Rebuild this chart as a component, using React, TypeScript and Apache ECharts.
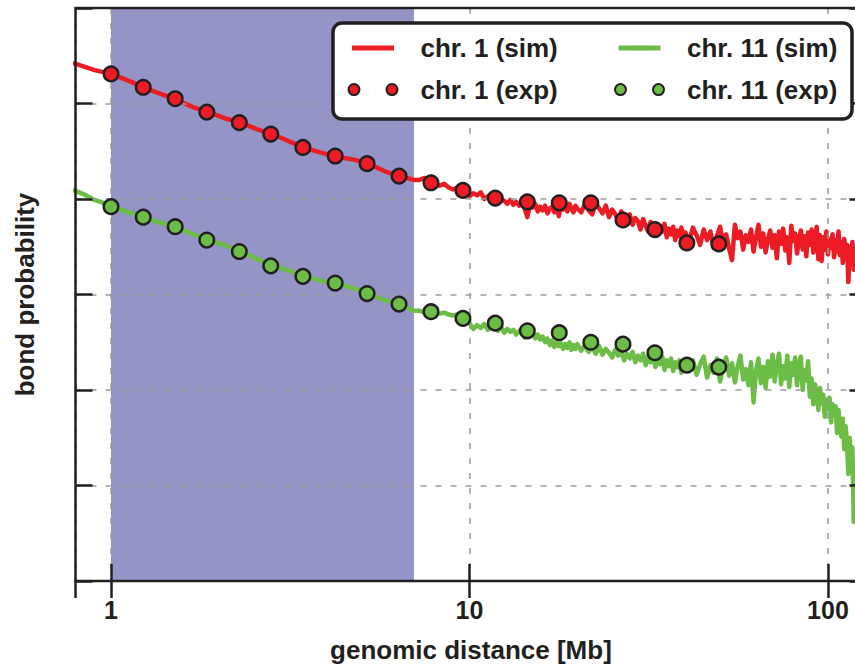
import { useEffect, useRef } from 'react';
import * as echarts from 'echarts';

const FONT = '"Liberation Sans", Arial, Helvetica, sans-serif';
const DARK = '#231f20';
const RED = '#ed1c24';
const GREEN = '#6cbd45';
const BAND = '#9494c6';
const GRID_GRAY = '#9c9c9c';

const NAMES = ['chr. 1 (sim)', 'chr. 1 (exp)', 'chr. 11 (sim)', 'chr. 11 (exp)'];
const X_TICKS = [1, 10, 100];
const X_RANGE = [0.796, 128];
const Y_RANGE = [0, 6];
const SHADE = [1, 7];

// simulated genomic distances [Mb], in four sampling segments
const X_SMOOTH = [0.79, 0.85, 0.9, 1, 1.1, 1.2, 1.35, 1.5, 1.7, 1.9, 2.1, 2.3, 2.6, 2.9, 3.2, 3.5, 3.9, 4.3, 4.8, 5.3, 5.8, 6.4, 7];
const X_A = [
  7.25, 7.5, 7.75, 8, 8.25, 8.5, 8.75, 9, 9.25, 9.5, 9.75, 10, 10.25, 10.5, 10.75, 11, 11.25, 11.5, 11.75, 12,
  12.25, 12.5, 12.75, 13, 13.25, 13.5, 13.75, 14, 14.25, 14.5, 14.75, 15, 15.25, 15.5, 15.75, 16, 16.25, 16.5, 16.75, 17,
  17.25, 17.5, 17.75, 18, 18.25, 18.5, 18.75, 19, 19.25, 19.5, 19.75, 20,
];
const X_B = [
  20.5, 21, 21.5, 22, 22.5, 23, 23.5, 24, 24.5, 25, 25.5, 26, 26.5, 27, 27.5, 28, 28.5, 29, 29.5, 30,
  30.5, 31, 31.5, 32, 32.5, 33, 33.5, 34, 34.5, 35, 35.5, 36, 36.5, 37, 37.5, 38, 38.5, 39, 39.5, 40,
];
const X_C = [
  41, 42, 43, 44, 45, 46, 47, 48, 49, 50, 51, 52, 53, 54, 55, 56, 57, 58, 59, 60,
  61, 62, 63, 64, 65, 66, 67, 68, 69, 70, 71, 72, 73, 74, 75, 76, 77, 78, 79, 80,
  81, 82, 83, 84, 85, 86, 87, 88, 89, 90, 91, 92, 93, 94, 95, 96, 97, 98, 99, 100,
  101, 102, 103, 104, 105, 106, 107, 108, 109, 110, 111, 112, 113, 114, 115, 116, 117, 118, 119, 120,
  121, 122, 123, 124,
];

// chr. 1 simulation
const RED_SMOOTH = [5.42, 5.38, 5.35, 5.31, 5.25, 5.19, 5.11, 5.05, 4.96, 4.9, 4.84, 4.8, 4.72, 4.66, 4.59, 4.53, 4.48, 4.44, 4.41, 4.36, 4.29, 4.24, 4.2];
const RED_A = [
  4.2, 4.22, 4.17, 4.16, 4.14, 4.16, 4.12, 4.1, 4.12, 4.09, 4.1, 4.03, 4.06, 4.04, 4.07, 4.0, 4.03, 4.01, 4.04, 3.97,
  4.0, 3.98, 3.95, 3.99, 3.94, 3.97, 3.93, 3.96, 3.9, 3.81, 3.94, 3.91, 3.95, 3.87, 3.92, 3.88, 3.93, 3.85, 3.9, 3.92,
  3.86, 3.91, 3.82, 3.94, 3.89, 3.92, 3.87, 3.95, 3.9, 3.86, 3.93, 3.9,
];
const RED_B = [
  3.86, 3.95, 3.88, 3.84, 3.96, 3.9, 3.85, 3.93, 3.81, 3.89, 3.84, 3.78, 3.87, 3.8, 3.75, 3.84, 3.73, 3.8, 3.77, 3.68,
  3.79, 3.72, 3.66, 3.76, 3.69, 3.73, 3.62, 3.71, 3.66, 3.74, 3.6, 3.69, 3.63, 3.71, 3.57, 3.67, 3.61, 3.7, 3.58, 3.65,
];
const RED_C = [
  3.55, 3.7, 3.62, 3.52, 3.68, 3.57, 3.66, 3.49, 3.61, 3.71, 3.54, 3.63, 3.48, 3.36, 3.73, 3.59, 3.66, 3.47, 3.62, 3.55,
  3.68, 3.45, 3.6, 3.73, 3.5, 3.64, 3.44, 3.58, 3.67, 3.49, 3.62, 3.38, 3.66, 3.53, 3.69, 3.46, 3.6, 3.33, 3.72, 3.56,
  3.64, 3.43, 3.58, 3.67, 3.47, 3.61, 3.4, 3.65, 3.52, 3.68, 3.44, 3.59, 3.71, 3.37, 3.62, 3.35, 3.6, 3.47, 3.66, 3.42,
  3.58, 3.49, 3.63, 3.39, 3.57, 3.45, 3.66, 3.41, 3.55, 3.33, 3.58, 3.44, 3.52, 3.13, 3.5, 3.38, 3.55, 3.26, 3.48, 3.35,
  3.5, 3.22, 3.44, 3.31,
];

// chr. 11 simulation
const GREEN_SMOOTH = [4.09, 4.04, 3.99, 3.93, 3.87, 3.82, 3.76, 3.71, 3.63, 3.56, 3.51, 3.45, 3.36, 3.29, 3.24, 3.19, 3.14, 3.11, 3.06, 3.0, 2.94, 2.9, 2.83];
const GREEN_A = [
  2.83, 2.81, 2.82, 2.81, 2.8, 2.81, 2.79, 2.78, 2.79, 2.77, 2.76, 2.7, 2.64, 2.68, 2.65, 2.69, 2.63, 2.67, 2.64, 2.62,
  2.66, 2.6, 2.64, 2.61, 2.63, 2.58, 2.62, 2.6, 2.55, 2.61, 2.57, 2.6, 2.54, 2.58, 2.53, 2.56, 2.5, 2.54, 2.47, 2.52,
  2.45, 2.5, 2.46, 2.49, 2.43, 2.48, 2.44, 2.5, 2.42, 2.47, 2.43, 2.48,
];
const GREEN_B = [
  2.41, 2.47, 2.4, 2.45, 2.38, 2.46, 2.37, 2.43, 2.39, 2.34, 2.42, 2.36, 2.4, 2.31, 2.38, 2.33, 2.4, 2.29, 2.36, 2.31,
  2.38, 2.26, 2.35, 2.29, 2.36, 2.24, 2.32, 2.27, 2.35, 2.21, 2.31, 2.25, 2.33, 2.2, 2.29, 2.24, 2.31, 2.18, 2.28, 2.22,
];
const GREEN_C = [
  2.2, 2.31, 2.16, 2.27, 2.35, 2.13, 2.26, 2.18, 2.33, 2.09, 2.24, 2.34, 2.15, 2.28, 2.08, 2.25, 2.36, 2.11, 2.22, 2.05,
  2.29, 1.87, 2.2, 2.33, 2.07, 2.24, 2.02, 2.3, 2.14, 2.37, 2.09, 2.27, 2.38, 2.06, 2.25, 2.12, 2.36, 2.03, 2.28, 2.16,
  2.34, 2.05, 2.26, 2.35, 2.0, 2.21, 2.1, 2.3, 1.93, 2.12, 1.85, 2.06, 1.97, 1.79, 2.02, 1.86, 1.95, 1.72, 1.9, 1.8,
  1.92, 1.66, 1.85, 1.74, 1.83, 1.55, 1.79, 1.62, 1.51, 1.7, 1.38, 1.62, 1.45, 1.12, 1.5, 1.25, 1.4, 0.62, 1.02, 1.18,
  0.7, 0.95, 0.55, 0.82,
];

// experimental points
const EXP_X = [1, 1.23, 1.51, 1.85, 2.28, 2.79, 3.43, 4.22, 5.18, 6.36, 7.81, 9.59, 11.8, 14.5, 17.8, 21.8, 26.8, 32.9, 40.4, 49.6];
const RED_EXP = [5.31, 5.17, 5.05, 4.91, 4.8, 4.68, 4.54, 4.45, 4.37, 4.24, 4.17, 4.09, 4.01, 3.97, 3.96, 3.96, 3.78, 3.68, 3.54, 3.53];
const GREEN_EXP = [3.92, 3.81, 3.71, 3.57, 3.45, 3.3, 3.19, 3.12, 3.01, 2.9, 2.82, 2.75, 2.7, 2.62, 2.6, 2.5, 2.48, 2.39, 2.26, 2.24];

const SIM_X = [...X_SMOOTH, ...X_A, ...X_B, ...X_C];
const RED_SIM = [...RED_SMOOTH, ...RED_A, ...RED_B, ...RED_C];
const GREEN_SIM = [...GREEN_SMOOTH, ...GREEN_A, ...GREEN_B, ...GREEN_C];

const pairs = (xs: number[], ys: number[]) => {
  const n = Math.min(xs.length, ys.length);
  const out: number[][] = [];
  for (let i = 0; i < n; i++) out.push([xs[i], ys[i]]);
  return out;
};

const LINE_ICON = 'path://M0,0L0,0M49,11L49,11M3.5,3H45.5V8H3.5Z';
const DOTS_ICON =
  'path://M0,5.5A5.5,5.5 0 1,0 11,5.5A5.5,5.5 0 1,0 0,5.5ZM38,5.5A5.5,5.5 0 1,0 49,5.5A5.5,5.5 0 1,0 38,5.5Z';

const tickStyle = { color: DARK, width: 2.5 };
const splitStyle = { color: GRID_GRAY, width: 1.5, type: [6, 9] as number[] };

const legendText = {
  fontSize: 26,
  fontWeight: 'bold',
  color: DARK,
  fontFamily: FONT,
  lineHeight: 30,
  padding: [0, 0, 0, 18],
};

const makeLegend = (left: number, simName: string, expName: string) => ({
  orient: 'vertical',
  left,
  top: 33,
  padding: 0,
  itemWidth: 49,
  itemHeight: 30,
  itemGap: 11.6,
  z: 6,
  selectedMode: false,
  textStyle: legendText,
  data: [
    { name: simName, icon: LINE_ICON, itemStyle: { borderWidth: 0 } },
    { name: expName, icon: DOTS_ICON },
  ],
});

const xLabelFormatter = (v: number) => {
  const r = Math.round(v);
  return X_TICKS.includes(r) && Math.abs(v - r) < 1e-6 ? String(r) : '';
};

export default function App() {
  const ref = useRef<HTMLDivElement>(null);

  useEffect(() => {
    if (!ref.current) return;
    const chart = echarts.init(ref.current, undefined, { renderer: 'svg' });
    const option: any = {
      animation: false,
      backgroundColor: '#ffffff',
      textStyle: { fontFamily: FONT },
      grid: {
        left: 75.5,
        top: 8,
        right: -11.4,
        bottom: 84,
        show: true,
        borderColor: DARK,
        borderWidth: 2.5,
        backgroundColor: 'transparent',
        z: 4,
        outerBoundsMode: 'none',
        containLabel: false,
      },
      xAxis: [
        {
          type: 'log',
          logBase: 10,
          min: X_RANGE[0],
          max: X_RANGE[1],
          position: 'bottom',
          z: 3,
          name: 'genomic distance [Mb]',
          nameLocation: 'middle',
          nameGap: 56,
          nameTextStyle: { fontSize: 26, fontWeight: 'bold', color: DARK, fontFamily: FONT },
          axisLine: { show: false },
          axisTick: { show: true, inside: true, length: 17, lineStyle: tickStyle },
          axisLabel: {
            show: true,
            margin: 16,
            fontSize: 25,
            fontWeight: 'bold',
            color: DARK,
            fontFamily: FONT,
            showMinLabel: false,
            showMaxLabel: false,
            formatter: xLabelFormatter,
          },
          splitLine: { show: true, lineStyle: splitStyle },
          minorTick: { show: false },
        },
        {
          type: 'log',
          logBase: 10,
          min: X_RANGE[0],
          max: X_RANGE[1],
          position: 'top',
          z: 3,
          axisLine: { show: false },
          axisTick: { show: true, inside: true, length: 17, lineStyle: tickStyle },
          axisLabel: { show: false },
          splitLine: { show: false },
        },
      ],
      yAxis: [
        {
          type: 'value',
          min: Y_RANGE[0],
          max: Y_RANGE[1],
          interval: 1,
          position: 'left',
          z: 3,
          name: 'bond probability',
          nameLocation: 'middle',
          nameGap: 38,
          nameTextStyle: { fontSize: 26, fontWeight: 'bold', color: DARK, fontFamily: FONT },
          axisLine: { show: false },
          axisTick: { show: true, inside: true, length: 17, lineStyle: tickStyle },
          axisLabel: { show: false },
          splitLine: { show: true, lineStyle: splitStyle },
        },
        {
          type: 'value',
          min: Y_RANGE[0],
          max: Y_RANGE[1],
          interval: 1,
          position: 'right',
          z: 3,
          axisLine: { show: false },
          axisTick: { show: true, inside: true, length: 17, lineStyle: tickStyle },
          axisLabel: { show: false },
          splitLine: { show: false },
        },
      ],
      legend: [makeLegend(347.5, NAMES[0], NAMES[1]), makeLegend(614, NAMES[2], NAMES[3])],
      graphic: {
        elements: [
          {
            type: 'rect',
            z: 5,
            shape: { x: 333, y: 23, width: 519, height: 96, r: 9 },
            style: { fill: '#ffffff', stroke: DARK, lineWidth: 3.5 },
          },
        ],
      },
      series: [
        {
          name: NAMES[0],
          type: 'line',
          z: 2,
          data: pairs(SIM_X, RED_SIM),
          symbol: 'none',
          showSymbol: false,
          color: RED,
          lineStyle: { color: RED, width: 4.5, join: 'round', cap: 'round' },
          markArea: {
            silent: true,
            z: 1,
            itemStyle: { color: BAND, opacity: 1 },
            data: [[{ xAxis: SHADE[0] }, { xAxis: SHADE[1] }]],
          },
        },
        {
          name: NAMES[2],
          type: 'line',
          z: 2,
          data: pairs(SIM_X, GREEN_SIM),
          symbol: 'none',
          showSymbol: false,
          color: GREEN,
          lineStyle: { color: GREEN, width: 4.5, join: 'round', cap: 'round' },
        },
        {
          name: NAMES[1],
          type: 'scatter',
          z: 4,
          data: pairs(EXP_X, RED_EXP),
          symbol: 'circle',
          symbolSize: 14.5,
          itemStyle: { color: RED, borderColor: DARK, borderWidth: 2.5, opacity: 1 },
        },
        {
          name: NAMES[3],
          type: 'scatter',
          z: 4,
          data: pairs(EXP_X, GREEN_EXP),
          symbol: 'circle',
          symbolSize: 14.5,
          itemStyle: { color: GREEN, borderColor: DARK, borderWidth: 2.5, opacity: 1 },
        },
      ],
    };
    chart.setOption(option);
    return () => chart.dispose();
  }, []);

  return (
    <div
      ref={ref}
      style={{ position: 'fixed', left: 0, top: 0, width: 855, height: 665, background: '#ffffff' }}
    />
  );
}
